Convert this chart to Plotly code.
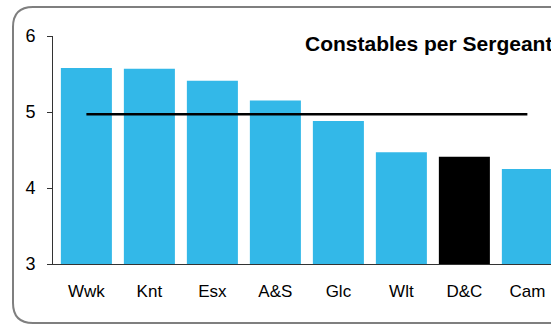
import plotly.graph_objs as go

forces = ['Wwk', 'Knt', 'Esx', 'A&S', 'Glc', 'Wlt', 'D&C', 'Cam']
constables_per_sgt = [5.58, 5.57, 5.41, 5.15, 4.88, 4.47, 4.41, 4.25]
average_line = [4.97] * len(forces)
highlight = 'D&C'

W, H = 551, 326
ML, MR, MT, MB = 53, 0, 36, 62
PW, PH = W - ML - MR, H - MT - MB


def px(x):
    return (x - ML) / PW


def py(y):
    return (H - MB - y) / PH


bar_colors = ['#000000' if f == highlight else '#33B8E8' for f in forces]

fig = go.Figure()
fig.add_trace(go.Bar(x=forces, y=constables_per_sgt, marker_color=bar_colors,
                     marker_line_width=0))
fig.add_trace(go.Scatter(x=forces, y=average_line, mode='lines',
                         line=dict(color='#000000', width=2.5)))

# rounded frame, open on the right (chart is cut off)
r = 20
path = (f"M {px(700)},{py(7)} L {px(13 + r)},{py(7)} "
        f"Q {px(13)},{py(7)} {px(13)},{py(7 + r)} "
        f"L {px(13)},{py(323 - r)} Q {px(13)},{py(323)} {px(13 + r)},{py(323)} "
        f"L {px(700)},{py(323)}")
fig.add_shape(type='path', path=path, xref='paper', yref='paper',
              line=dict(color='#7F7F7F', width=2), layer='below')

fig.add_annotation(text='<b>Constables per Sergeant</b>', x=px(303), y=py(43),
                   xref='paper', yref='paper', xanchor='left', yanchor='middle',
                   showarrow=False, font=dict(size=21, color='#000000'))

fig.update_layout(width=W, height=H, margin=dict(l=ML, r=MR, t=MT, b=MB),
                  paper_bgcolor='white', plot_bgcolor='white', showlegend=False,
                  bargap=0.19, font=dict(family='Arial, Liberation Sans', color='#000000'))

fig.update_xaxes(type='category', range=[-0.53, 7.375], showline=True, linecolor='#333333',
                 linewidth=1, ticks='', tickfont_size=17, ticklabelstandoff=12,
                 showgrid=False, zeroline=False)
fig.update_yaxes(range=[3, 6], dtick=1, showline=True, linecolor='#333333', linewidth=1,
                 ticks='outside', ticklen=5, tickcolor='#333333', tickfont_size=18,
                 ticklabelstandoff=8, showgrid=False, zeroline=False)

fig.write_html("out.html", config={'displayModeBar': False},
               post_script="document.body.style.margin='0';document.body.style.overflow='hidden';")
